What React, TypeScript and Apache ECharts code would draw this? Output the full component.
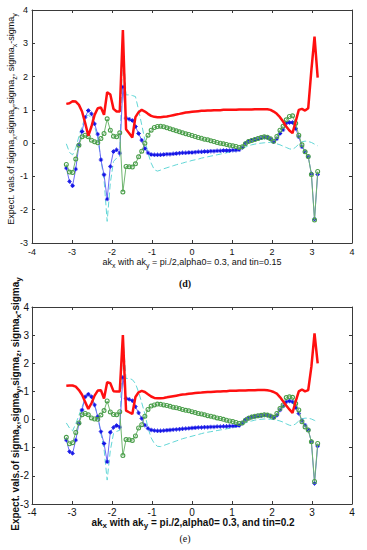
import React, { useEffect, useRef } from "react";
import * as echarts from "echarts";

// ak_x sample points (-pi .. pi)
const AK_X = [-3.142,-3.063,-2.985,-2.906,-2.827,-2.749,-2.670,-2.592,-2.513,-2.435,-2.356,-2.277,-2.199,-2.121,-2.042,-1.963,-1.885,-1.806,-1.728,-1.649,-1.571,-1.492,-1.414,-1.335,-1.257,-1.178,-1.100,-1.021,-0.942,-0.864,-0.785,-0.707,-0.628,-0.550,-0.471,-0.393,-0.314,-0.236,-0.157,-0.079,0,0.079,0.157,0.236,0.314,0.393,0.471,0.550,0.628,0.707,0.785,0.864,0.942,1.021,1.100,1.178,1.257,1.335,1.414,1.492,1.571,1.649,1.728,1.806,1.885,1.963,2.042,2.121,2.199,2.277,2.356,2.435,2.513,2.592,2.670,2.749,2.827,2.906,2.985,3.063,3.142];

// Panel (d): tin = 0.15
const D_SIGMA_X = [-0.75,-1.15,-1.28,-0.78,-0.05,0.35,0.78,0.98,0.88,0.58,0.27,-0.50,-0.95,-1.68,-0.70,-0.25,-0.20,-0.30,1.69,0.75,0.72,0.68,0.50,0.29,0.09,-0.16,-0.29,-0.34,-0.35,-0.35,-0.35,-0.34,-0.33,-0.33,-0.32,-0.31,-0.30,-0.29,-0.29,-0.28,-0.28,-0.27,-0.26,-0.26,-0.25,-0.25,-0.24,-0.24,-0.23,-0.23,-0.22,-0.22,-0.22,-0.21,-0.21,-0.20,-0.13,0.00,0.06,0.09,0.11,0.13,0.16,0.18,0.17,0.12,0.04,0.13,0.29,0.40,0.60,0.62,0.62,0.44,0.19,-0.11,-0.26,-0.41,-0.92,-2.28,-0.94];
const D_SIGMA_Y = [-0.02,-0.28,-0.35,-0.15,0.20,0.50,0.78,0.85,0.75,0.50,0.15,-0.50,-1.10,-2.35,-1.20,-0.55,-0.45,-0.40,3.00,1.45,1.45,1.43,1.40,1.00,0.55,0.10,-0.30,-0.60,-0.80,-0.84,-0.81,-0.77,-0.74,-0.71,-0.68,-0.65,-0.62,-0.60,-0.57,-0.55,-0.52,-0.50,-0.48,-0.45,-0.43,-0.41,-0.39,-0.37,-0.35,-0.33,-0.31,-0.29,-0.27,-0.25,-0.23,-0.19,-0.15,-0.12,-0.08,-0.05,-0.03,-0.01,0.00,0.01,0.02,0.02,0.01,-0.02,-0.05,-0.09,-0.13,-0.17,-0.19,-0.12,-0.03,0.04,0.06,0.05,0.02,-0.03,-0.08];
const D_SIGMA_Z = [-0.64,-0.87,-0.88,-0.48,-0.06,0.19,0.24,0.19,0.09,0.04,0.01,0.14,0.29,0.73,0.39,0.21,0.19,0.31,-1.47,-0.70,-0.71,-0.72,-0.62,-0.41,-0.24,0.00,0.24,0.39,0.47,0.50,0.51,0.49,0.46,0.43,0.40,0.37,0.34,0.31,0.28,0.26,0.23,0.20,0.17,0.15,0.12,0.10,0.07,0.05,0.02,0.00,-0.02,-0.04,-0.06,-0.08,-0.10,-0.13,-0.11,-0.02,0.05,0.08,0.11,0.14,0.17,0.19,0.18,0.13,0.06,0.20,0.39,0.51,0.70,0.80,0.82,0.60,0.24,-0.05,-0.26,-0.40,-0.94,-2.31,-0.85];
const D_SIGMA_XY = [1.18,1.20,1.26,1.25,1.15,0.95,0.60,0.22,0.50,0.85,1.05,1.07,0.85,1.53,1.46,1.03,0.95,0.95,3.40,0.42,0.30,0.17,0.78,0.93,1.00,0.95,0.88,0.82,0.79,0.78,0.78,0.79,0.80,0.82,0.84,0.86,0.88,0.90,0.92,0.93,0.94,0.95,0.96,0.97,0.97,0.98,0.98,0.99,0.99,0.99,1.00,1.00,1.00,1.00,1.00,1.01,1.01,1.01,1.01,1.01,1.02,1.02,1.02,1.02,1.02,1.00,0.95,0.88,0.78,0.65,0.50,0.38,0.30,0.65,1.00,1.03,0.98,1.05,2.20,3.20,1.97];

// Panel (e): tin = 0.2
const E_SIGMA_X = [-0.73,-1.14,-1.20,-0.73,-0.14,0.34,0.81,0.90,0.81,0.52,0.10,-0.43,-0.85,-1.50,-0.45,-0.28,-0.21,-0.27,1.50,0.75,0.72,0.67,0.46,0.24,0.04,-0.20,-0.31,-0.37,-0.39,-0.40,-0.40,-0.39,-0.38,-0.37,-0.36,-0.35,-0.34,-0.33,-0.32,-0.31,-0.30,-0.29,-0.28,-0.28,-0.27,-0.27,-0.26,-0.26,-0.25,-0.25,-0.24,-0.24,-0.23,-0.23,-0.22,-0.21,-0.12,0.00,0.06,0.09,0.11,0.13,0.14,0.16,0.15,0.12,0.07,0.15,0.34,0.48,0.63,0.66,0.63,0.43,0.22,-0.04,-0.20,-0.37,-0.79,-2.27,-0.94];
const E_SIGMA_Y = [-0.12,-0.30,-0.40,-0.15,0.15,0.45,0.75,0.88,0.80,0.55,0.10,-0.50,-1.05,-2.15,-1.10,-0.50,-0.42,-0.38,2.95,1.46,1.46,1.42,1.28,0.98,0.60,0.20,-0.30,-0.65,-0.85,-0.95,-0.96,-0.92,-0.88,-0.84,-0.80,-0.76,-0.72,-0.68,-0.65,-0.62,-0.59,-0.56,-0.53,-0.50,-0.47,-0.45,-0.43,-0.41,-0.39,-0.37,-0.35,-0.33,-0.31,-0.29,-0.26,-0.22,-0.17,-0.12,-0.08,-0.05,-0.02,0.00,0.01,0.02,0.02,0.01,0.00,-0.02,-0.05,-0.09,-0.15,-0.20,-0.22,-0.15,-0.05,0.03,0.05,0.05,0.02,-0.03,-0.09];
const E_SIGMA_Z = [-0.63,-0.86,-0.82,-0.46,-0.12,0.17,0.22,0.17,0.06,0.02,0.01,0.16,0.32,0.66,0.27,0.18,0.17,0.28,-1.28,-0.71,-0.72,-0.74,-0.58,-0.30,-0.18,0.12,0.36,0.48,0.52,0.55,0.54,0.52,0.50,0.47,0.44,0.42,0.39,0.36,0.33,0.31,0.28,0.25,0.22,0.20,0.17,0.14,0.12,0.09,0.06,0.04,0.01,-0.02,-0.05,-0.07,-0.10,-0.14,-0.12,-0.02,0.05,0.09,0.12,0.14,0.15,0.17,0.16,0.13,0.08,0.22,0.39,0.52,0.78,0.81,0.79,0.57,0.34,-0.08,-0.26,-0.37,-0.79,-2.20,-0.85];
const E_SIGMA_XY = [1.20,1.21,1.21,1.17,1.05,0.88,0.62,0.38,0.58,0.85,1.03,1.04,0.75,1.33,1.29,1.01,1.00,1.00,3.00,0.32,0.26,0.20,0.80,0.97,1.02,0.98,0.90,0.82,0.77,0.76,0.76,0.77,0.79,0.81,0.83,0.85,0.87,0.89,0.90,0.92,0.93,0.94,0.95,0.96,0.97,0.98,0.98,0.99,1.00,1.00,1.01,1.01,1.02,1.02,1.02,1.03,1.03,1.03,1.04,1.04,1.04,1.05,1.05,1.05,1.04,1.02,0.98,0.92,0.80,0.65,0.50,0.36,0.24,0.65,1.00,1.07,1.00,1.05,1.88,3.06,2.00];

const X_MIN = -4, X_MAX = 4, X_STEP = 1;
const Y_MIN = -3, Y_MAX = 4, Y_STEP = 1;

const FONT = "'Liberation Sans', Arial, Helvetica, sans-serif";
const BOX = "#3a3a3a";
const STAR = "path://M4.1,0 L5.9,0 L5.9,10 L4.1,10 Z M0,4.1 L10,4.1 L10,5.9 L0,5.9 Z M1.3,2.6 L2.6,1.3 L8.7,7.4 L7.4,8.7 Z M7.4,1.3 L8.7,2.6 L2.6,8.7 L1.3,7.4 Z";
const RING = "path://M0,5 A5,5 0 1,0 10,5 A5,5 0 1,0 0,5 Z M2.2,5 A2.8,2.8 0 1,1 7.8,5 A2.8,2.8 0 1,1 2.2,5 Z";

const pairs = (ys: number[]) => AK_X.map((x, i) => [x, ys[i]]);

function axesFor(fs: number, margin: number) {
  const common = {
    type: "value" as const,
    splitLine: { show: false },
    axisLine: { show: true, onZero: false, lineStyle: { color: BOX, width: 1 } },
    axisTick: { show: true, inside: true, length: 3, lineStyle: { color: BOX, width: 1 } },
  };
  const x = [
    { ...common, position: "bottom", min: X_MIN, max: X_MAX, interval: X_STEP,
      axisLabel: { color: "#111", fontSize: fs, fontFamily: FONT, margin } },
    { ...common, position: "top", min: X_MIN, max: X_MAX, interval: X_STEP, axisLabel: { show: false } },
  ];
  const y = [
    { ...common, position: "left", min: Y_MIN, max: Y_MAX, interval: Y_STEP,
      axisLabel: { color: "#111", fontSize: fs, fontFamily: FONT, margin } },
    { ...common, position: "right", min: Y_MIN, max: Y_MAX, interval: Y_STEP, axisLabel: { show: false } },
  ];
  return { x, y };
}

function seriesFor(axisIndex: number, sx: number[], sy: number[], sz: number[], sxy: number[]) {
  const base = { type: "line" as const, xAxisIndex: axisIndex, yAxisIndex: axisIndex, silent: true, animation: false };
  return [
    { ...base, name: "sigma_y", data: pairs(sy), showSymbol: false, symbol: "none",
      lineStyle: { color: "#62d6d6", width: 1, type: [6, 3] }, z: 2 },
    { ...base, name: "sigma_x", data: pairs(sx), symbol: STAR, symbolSize: 4.5, showAllSymbol: true,
      itemStyle: { color: "#1414e6" }, lineStyle: { color: "#6a6af5", width: 1 }, z: 3 },
    { ...base, name: "sigma_z", data: pairs(sz), symbol: RING, symbolSize: 5, showAllSymbol: true,
      itemStyle: { color: "#4a9e4a" }, lineStyle: { color: "#6fb56f", width: 1 }, z: 4 },
    { ...base, name: "sigma_x-sigma_y", data: pairs(sxy), showSymbol: false, symbol: "none",
      lineStyle: { color: "#ff1010", width: 2.5 }, z: 5 },
  ];
}

function richStyles(fs: number, sub: number, weight: string) {
  return {
    n: { fontSize: fs, fontFamily: FONT, fontWeight: weight, fill: "#111", lineHeight: fs + 4, verticalAlign: "middle" },
    s: { fontSize: sub, fontFamily: FONT, fontWeight: weight, fill: "#111", lineHeight: fs + 4, verticalAlign: "bottom" },
  };
}

const Y_TITLE = "{n|Expect. vals.of sigma}{s|x}{n|,sigma}{s|y}{n|,sigma}{s|z}{n|, sigma}{s|x}{n|-sigma}{s|y}";
const xTitle = (tin: string) => "{n|ak}{s|x}{n| with ak}{s|y}{n| = pi./2,alpha0= 0.3, and tin=" + tin + "}";

export default function App() {
  const ref = useRef<HTMLDivElement>(null);
  useEffect(() => {
    if (!ref.current) return;
    const chart = echarts.init(ref.current, null, { renderer: "svg" });
    const a1 = axesFor(9, 4);
    const a2 = axesFor(10, 3);
    chart.setOption({
      animation: false,
      backgroundColor: "#fff",
      grid: [
        { left: 32, top: 10, width: 320, height: 233, containLabel: false },
        { left: 32, top: 307, width: 320, height: 197, containLabel: false },
      ],
      xAxis: [a1.x[0], a1.x[1], a2.x[0], a2.x[1]].map((ax, i) => ({ ...ax, gridIndex: i < 2 ? 0 : 1 })),
      yAxis: [a1.y[0], a1.y[1], a2.y[0], a2.y[1]].map((ax, i) => ({ ...ax, gridIndex: i < 2 ? 0 : 1 })),
      series: [
        ...seriesFor(0, D_SIGMA_X, D_SIGMA_Y, D_SIGMA_Z, D_SIGMA_XY),
        ...seriesFor(2, E_SIGMA_X, E_SIGMA_Y, E_SIGMA_Z, E_SIGMA_XY),
      ],
      graphic: [
        { type: "text", x: 11, y: 119, rotation: Math.PI / 2,
          style: { text: Y_TITLE, rich: richStyles(9, 7, "normal"), align: "center", verticalAlign: "middle", fill: "#111" } },
        { type: "text", x: 15, y: 404, rotation: Math.PI / 2,
          style: { text: Y_TITLE, rich: richStyles(10, 8, "bold"), align: "center", verticalAlign: "middle", fill: "#111" } },
        { type: "text", x: 192, y: 262,
          style: { text: xTitle("0.15"), rich: richStyles(9, 7, "normal"), align: "center", verticalAlign: "middle", fill: "#111" } },
        { type: "text", x: 193, y: 522,
          style: { text: xTitle("0.2"), rich: richStyles(10, 8, "bold"), align: "center", verticalAlign: "middle", fill: "#111" } },
        { type: "text", x: 185, y: 283,
          style: { text: "(d)", fontSize: 10, fontWeight: "bold", fontFamily: "'Liberation Serif', 'DejaVu Serif', serif", fill: "#111", align: "center", verticalAlign: "middle" } },
        { type: "text", x: 185, y: 538,
          style: { text: "(e)", fontSize: 10, fontFamily: "'Liberation Serif', 'DejaVu Serif', serif", fill: "#111", align: "center", verticalAlign: "middle" } },
      ],
    });
    return () => chart.dispose();
  }, []);
  return (
    <div
      ref={ref}
      style={{ position: "absolute", left: 0, top: 0, width: 367, height: 550, background: "#fff" }}
    />
  );
}
